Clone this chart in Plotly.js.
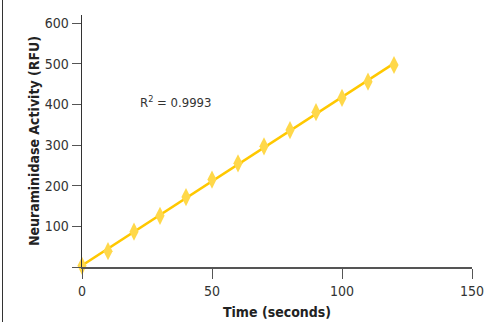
<!DOCTYPE html>
<html>
<head>
<meta charset="utf-8">
<script src="https://cdn.plot.ly/plotly-3.0.1.min.js"></script>
<style>
  html, body { margin: 0; padding: 0; background: #fff; }
  #wrap { position: relative; width: 495px; height: 322px; }
  #edge { position: absolute; left: 2px; top: 0; width: 1px; height: 322px; background: #333; z-index: 5; }
  #chart { position: absolute; left: 0; top: 0; width: 495px; height: 322px; }
</style>
</head>
<body>
<div id="wrap"><div id="edge"></div><div id="chart"></div></div>
<script>
const timeSeconds = [0, 10, 20, 30, 40, 50, 60, 70, 80, 90, 100, 110, 120];
const activityRFU = [3, 39, 87, 126, 172, 215, 255, 297, 337, 381, 416, 456, 497];
const xTickVals = [0, 50, 100, 150];
const yTickVals = [0, 100, 200, 300, 400, 500, 600];
const yTickText = ['', '100', '200', '300', '400', '500', '600'];
const r2Label = 'R<sup>2</sup> = 0.9993';

// least-squares fit line
const n = timeSeconds.length;
const mx = timeSeconds.reduce((a, b) => a + b, 0) / n;
const my = activityRFU.reduce((a, b) => a + b, 0) / n;
let sxy = 0, sxx = 0;
for (let i = 0; i < n; i++) { sxy += (timeSeconds[i] - mx) * (activityRFU[i] - my); sxx += (timeSeconds[i] - mx) ** 2; }
const slope = sxy / sxx, icpt = my - slope * mx;
const fitX = [timeSeconds[0], timeSeconds[n - 1]];
const fitY = fitX.map(x => icpt + slope * x);

const FONT = '"DejaVu Sans Condensed", "Liberation Sans Narrow", sans-serif';

const traces = [
  { x: fitX, y: fitY, mode: 'lines', line: { color: '#FFC800', width: 2.5 }, hoverinfo: 'skip', cliponaxis: false },
  { x: timeSeconds, y: activityRFU, mode: 'markers', cliponaxis: false,
    marker: { symbol: 'diamond-tall', size: 13, color: '#FFD84A', line: { width: 0 } } }
];

const layout = {
  width: 495, height: 322,
  margin: { l: 82, r: 23, t: 15, b: 55 },
  paper_bgcolor: '#fff', plot_bgcolor: '#fff',
  showlegend: false,
  font: { family: FONT, color: '#333', size: 14 },
  xaxis: {
    range: [0, 150], tickvals: xTickVals, ticks: 'outside', ticklen: 10, tickwidth: 1, tickcolor: '#555',
    showline: true, linecolor: '#555', linewidth: 2, showgrid: false, zeroline: false,
    tickfont: { family: FONT, size: 14, color: '#333' },
    title: { text: '<b>Time (seconds)</b>', font: { family: FONT, size: 14, color: '#222' }, standoff: 9 }
  },
  yaxis: {
    range: [0, 620], tickvals: yTickVals, ticktext: yTickText, ticks: 'outside', ticklen: 9, tickwidth: 1, tickcolor: '#555',
    showline: true, linecolor: '#333', linewidth: 1.5, showgrid: false, zeroline: false,
    tickfont: { family: FONT, size: 14, color: '#333' },
    title: { text: '<b>Neuraminidase Activity (RFU)</b>', font: { family: FONT, size: 14, color: '#222' }, standoff: 2 }
  },
  annotations: [
    { x: 21.5, y: 405, xref: 'x', yref: 'y', xanchor: 'left', yanchor: 'middle', showarrow: false,
      text: r2Label, font: { family: FONT, size: 13, color: '#333' } }
  ]
};

Plotly.newPlot('chart', traces, layout, { displayModeBar: false, staticPlot: true });
</script>
</body>
</html>
